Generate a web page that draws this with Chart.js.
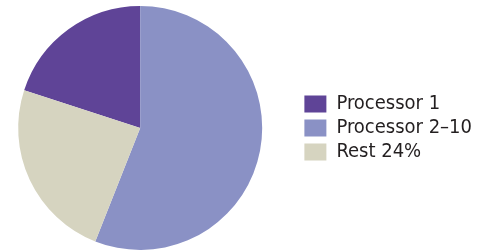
<!DOCTYPE html>
<html>
<head>
<meta charset="utf-8">
<script src="https://cdn.jsdelivr.net/npm/chart.js@4.4.0/dist/chart.umd.min.js"></script>
<style>
    html, body { margin: 0; padding: 0; background: #fff; overflow: hidden; }
    #frame { width: 482px; height: 252px; overflow: hidden; position: relative; }
    #wrap { width: 502px; height: 252px; position: absolute; left: -20px; top: 0; }
</style>
</head>
<body>
<div id="frame"><div id="wrap"><canvas id="pieChart"></canvas></div></div>
<script>
var labels = ["Processor 1", "Processor 2\u201310", "Rest 24%"];
var shares = [20, 56, 24];
var colors = ["#5f4497", "#8a91c5", "#d6d4c0"];

var pieElem = document.getElementById("pieChart");
var pieChart = new Chart(pieElem, {
    type: 'pie',
    data: {
        labels: labels,
        datasets: [
            {
                data: shares,
                backgroundColor: colors,
                borderWidth: 0,
                hoverOffset: 0
            }
        ]
    },
    options: {
        responsive: true,
        maintainAspectRatio: false,
        animation: false,
        rotation: -72,
        layout: {
            padding: {left: 0, right: 0, top: 6, bottom: 2}
        },
        plugins: {
            tooltip: {enabled: false},
            legend: {
                position: 'right',
                labels: {
                    boxWidth: 22,
                    boxHeight: 17,
                    padding: 4,
                    color: "#231f20",
                    font: {family: "'DejaVu Sans Condensed', sans-serif", size: 20}
                }
            }
        }
    }
});
</script>
</body>
</html>
